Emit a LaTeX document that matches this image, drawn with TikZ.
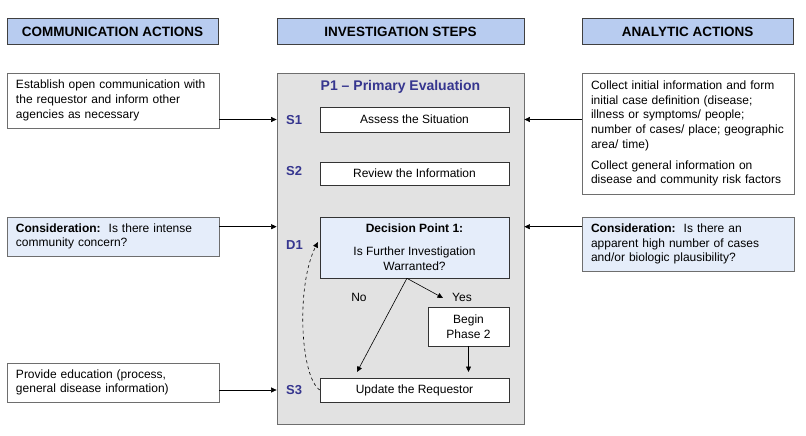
\documentclass[tikz,border=0pt]{standalone}
\usepackage{fontspec}
\setmainfont{Liberation Sans}
\usetikzlibrary{arrows.meta,calc}
\definecolor{hdrblue}{HTML}{B8CCF0}
\definecolor{consblue}{HTML}{E5EDFA}
\definecolor{panelgray}{HTML}{E2E2E2}
\definecolor{navy}{HTML}{36368F}
\definecolor{edgegray}{HTML}{6E6E6E}
\tikzset{
  conn/.style={line width=0.6pt, -{Triangle[length=5.5pt,width=5pt]}},
  hdr/.style={draw=black!75, line width=0.9pt, fill=hdrblue, minimum height=26pt,
    inner sep=0pt, font=\fontsize{13.5}{15}\selectfont\bfseries},
  sidebox/.style={draw=edgegray, line width=0.7pt, fill=white, inner xsep=9pt, inner ysep=0pt,
    text width=194pt, align=left, font=\fontsize{12}{14.7}\selectfont},
  consbox/.style={sidebox, fill=consblue},
  panelbox/.style={draw=edgegray, line width=0.8pt, fill=panelgray, inner sep=0pt},
  stepbox/.style={draw=black!80, line width=0.6pt, fill=white, inner sep=0pt,
    minimum width=189pt, align=center, font=\fontsize{12}{15}\selectfont},
  slabel/.style={anchor=west, inner sep=0pt, text=navy, font=\fontsize{13}{15}\selectfont\bfseries},
  small/.style={inner sep=0pt, font=\fontsize{12}{15}\selectfont}
}
\begin{document}
\begin{tikzpicture}[x=1pt, y=-1pt]
\useasboundingbox (0,0) rectangle (806,436);
\fill[white] (0,0) rectangle (806,436);

% headers
\node[hdr, minimum width=211pt] (hc) at (112.5,31.5) {COMMUNICATION ACTIONS};
\node[hdr, minimum width=247pt] (hi) at (400.5,31.5) {INVESTIGATION STEPS};
\node[hdr, minimum width=211pt] (ha) at (687.5,31.5) {ANALYTIC ACTIONS};

% central panel
\node[panelbox, minimum width=247pt, minimum height=351pt] (panel) at (400.5,248.5) {};
\node[inner sep=0pt, text=navy, font=\fontsize{14}{16}\selectfont\bfseries] (p1) at (400.5,87) {P1 -- Primary Evaluation};

\node[stepbox, minimum height=25pt] (s1box) at (414.5,119.5) {Assess the Situation};
\node[stepbox, minimum height=23pt] (s2box) at (414.5,173.5) {Review the Information};
\node[stepbox, minimum height=61pt, fill=consblue] (d1box) at (414.5,247.5)
  {\textbf{Decision Point 1:}\\[8pt]Is Further Investigation\\Warranted?};
\node[stepbox, minimum width=81pt, minimum height=39pt] (bp2) at (468.5,326.5) {Begin\\Phase 2};
\node[stepbox, minimum height=24pt] (s3box) at (414.5,390) {Update the Requestor};

\node[slabel] (s1l) at (286,120) {S1};
\node[slabel] (s2l) at (286,171) {S2};
\node[slabel] (d1l) at (286,245) {D1};
\node[slabel] (s3l) at (286,390) {S3};

\node[small] (no) at (359,297) {No};
\node[small] (yes) at (462,297) {Yes};

\coordinate (fork) at ($(d1box.south west)!0.46!(d1box.south east)$);
\coordinate (yestip) at (443,298);
\coordinate (notip) at (357,372);
\coordinate (bptip) at (468.5,372);
\coordinate (d1in) at (318,242);

\draw[conn] (fork) -- (yestip);
\draw[conn] (fork) -- (notip);
\draw[conn] (bp2.south) -- (bptip);
\draw[conn, dashed, line width=0.6pt] (s3box.west) .. controls (300,376) and (296,285) .. (d1in);

% left boxes
\node[sidebox, minimum height=55pt] (l1) at (113,100.5)
  {Establish open communication with\\the requestor and inform other\\agencies as necessary};
\node[consbox, minimum height=39pt] (l2) at (113,236.5)
  {\textbf{Consideration:}\ \ Is there intense\\community concern?};
\node[sidebox, minimum height=39pt] (l3) at (113,382.5)
  {Provide education (process,\\general disease information)};

% right boxes
\node[sidebox, minimum height=121pt] (r1) at (688,133.5)
  {Collect initial information and form\\initial case definition (disease;\\illness or symptoms/ people;\\number of cases/ place; geographic\\area/ time)\\[6pt]Collect general information on\\disease and community risk factors};
\node[consbox, minimum height=54pt] (r2) at (688,244)
  {\textbf{Consideration:}\ \ Is there an\\apparent high number of cases\\and/or biologic plausibility?};

% side connectors
\coordinate (dtop) at ($(d1box.north)+(0,10)$);
\draw[conn] (l1.east |- s1box) -- (panel.west |- s1box);
\draw[conn] (r1.west |- s1box) -- (panel.east |- s1box);
\draw[conn] (l2.east |- dtop) -- (panel.west |- dtop);
\draw[conn] (r2.west |- dtop) -- (panel.east |- dtop);
\draw[conn] (l3.east |- s3box) -- (panel.west |- s3box);
\end{tikzpicture}
\end{document}
